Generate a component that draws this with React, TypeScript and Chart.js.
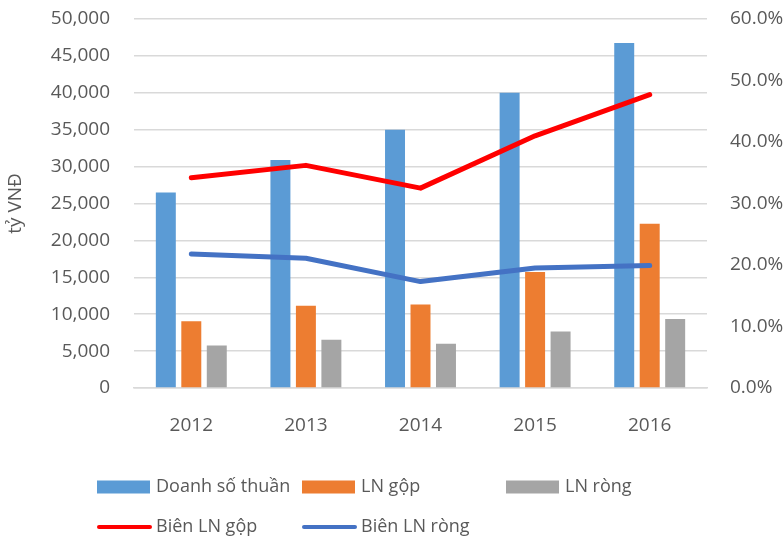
import React, { useEffect, useRef } from "react";
import { Chart, registerables } from "chart.js";

Chart.register(...registerables);

const categories = ["2012", "2013", "2014", "2015", "2016"];
const doanhSoThuan = [26500, 30900, 35000, 40000, 46750];
const lnGop = [9030, 11150, 11330, 15720, 22260];
const lnRong = [5770, 6550, 6000, 7670, 9350];
const bienLnGop = [34.2, 36.2, 32.5, 41.0, 47.7];
const bienLnRong = [21.8, 21.1, 17.3, 19.5, 19.9];

const seriesNames = ["Doanh số thuần", "LN gộp", "LN ròng", "Biên LN gộp", "Biên LN ròng"];
const seriesColors = ["#5B9BD5", "#ED7D31", "#A5A5A5", "#FF0000", "#4472C4"];

const leftMax = 50000;
const leftStep = 5000;
const rightMax = 60;
const rightStep = 10;
const yTitle = "tỷ VNĐ";

const FONT = "'Open Sans', 'DejaVu Sans', sans-serif";
const TEXT = "#595959";

const legendPlugin = {
  id: "customLegend",
  afterDraw(chart: any) {
    const ctx = chart.ctx as CanvasRenderingContext2D;
    const cols = [97, 302, 506];
    const rows = [487, 527];
    const slots = [
      [0, 0], [1, 0], [2, 0],
      [0, 1], [1, 1],
    ];
    ctx.save();
    ctx.font = `18px ${FONT}`;
    ctx.textBaseline = "middle";
    ctx.textAlign = "left";
    chart.data.datasets.forEach((ds: any, i: number) => {
      const [c, r] = slots[i];
      const x = cols[c];
      const y = rows[r];
      if (ds.type === "bar") {
        ctx.fillStyle = ds.backgroundColor;
        ctx.fillRect(x, y - 6.5, 53, 13);
      } else {
        ctx.strokeStyle = ds.borderColor;
        ctx.lineWidth = 4;
        ctx.lineCap = "round";
        ctx.beginPath();
        ctx.moveTo(x + 2, y);
        ctx.lineTo(x + 53, y);
        ctx.stroke();
      }
      ctx.fillStyle = TEXT;
      ctx.fillText(ds.label, x + 59, y);
    });
    ctx.restore();
  },
};

export default function App() {
  const ref = useRef<HTMLCanvasElement | null>(null);

  useEffect(() => {
    if (!ref.current) return;
    const chart = new Chart(ref.current, {
      type: "bar",
      data: {
        labels: categories,
        datasets: [
          { type: "bar", label: seriesNames[0], data: doanhSoThuan, backgroundColor: seriesColors[0], yAxisID: "y", order: 1 },
          { type: "bar", label: seriesNames[1], data: lnGop, backgroundColor: seriesColors[1], yAxisID: "y", order: 1 },
          { type: "bar", label: seriesNames[2], data: lnRong, backgroundColor: seriesColors[2], yAxisID: "y", order: 1 },
          {
            type: "line", label: seriesNames[3], data: bienLnGop, borderColor: seriesColors[3], backgroundColor: seriesColors[3],
            borderWidth: 5, pointRadius: 0, tension: 0, borderCapStyle: "round", borderJoinStyle: "round", yAxisID: "y2", order: 0,
          },
          {
            type: "line", label: seriesNames[4], data: bienLnRong, borderColor: seriesColors[4], backgroundColor: seriesColors[4],
            borderWidth: 5, pointRadius: 0, tension: 0, borderCapStyle: "round", borderJoinStyle: "round", yAxisID: "y2", order: 0,
          },
        ] as any,
      },
      options: {
        animation: false,
        responsive: true,
        maintainAspectRatio: false,
        layout: { padding: { top: 19, bottom: 0, left: 0, right: 0 } },
        datasets: { bar: { categoryPercentage: 0.667, barPercentage: 0.784 } } as any,
        plugins: {
          legend: { display: false },
          tooltip: { enabled: false },
        },
        scales: {
          x: {
            grid: { display: false, drawTicks: false },
            border: { display: true, color: "#D9D9D9", width: 1.5 },
            ticks: { color: TEXT, font: { family: FONT, size: 19 }, padding: 26 },
            afterFit(scale: any) { scale.height = 155; },
          },
          y: {
            position: "left",
            min: 0,
            max: leftMax,
            grid: { color: "#D9D9D9", lineWidth: 1.5, drawTicks: true, tickLength: 24, tickColor: "rgba(0,0,0,0)" },
            border: { display: false },
            ticks: {
              stepSize: leftStep,
              color: TEXT,
              font: { family: FONT, size: 19 },
              padding: 0,
              callback: (v: any) => Number(v).toLocaleString("en-US"),
            },
            title: { display: true, text: yTitle, color: TEXT, font: { family: FONT, size: 19 }, padding: { top: 4, bottom: 0 } },
            afterFit(scale: any) { scale.width = 134; },
          },
          y2: {
            position: "right",
            min: 0,
            max: rightMax,
            grid: { display: true, drawOnChartArea: false, color: "rgba(0,0,0,0)", drawTicks: true, tickLength: 23, tickColor: "rgba(0,0,0,0)" },
            border: { display: false },
            ticks: {
              stepSize: rightStep,
              color: TEXT,
              font: { family: FONT, size: 19 },
              padding: 0,
              callback: (v: any) => `${Number(v).toFixed(1)}%`,
            },
            afterFit(scale: any) { scale.width = 77; },
          },
        },
      },
      plugins: [legendPlugin],
    });
    return () => chart.destroy();
  }, []);

  return (
    <div style={{ position: "absolute", left: 0, top: 0, width: 784, height: 543, background: "#fff" }}>
      <canvas ref={ref} />
    </div>
  );
}
